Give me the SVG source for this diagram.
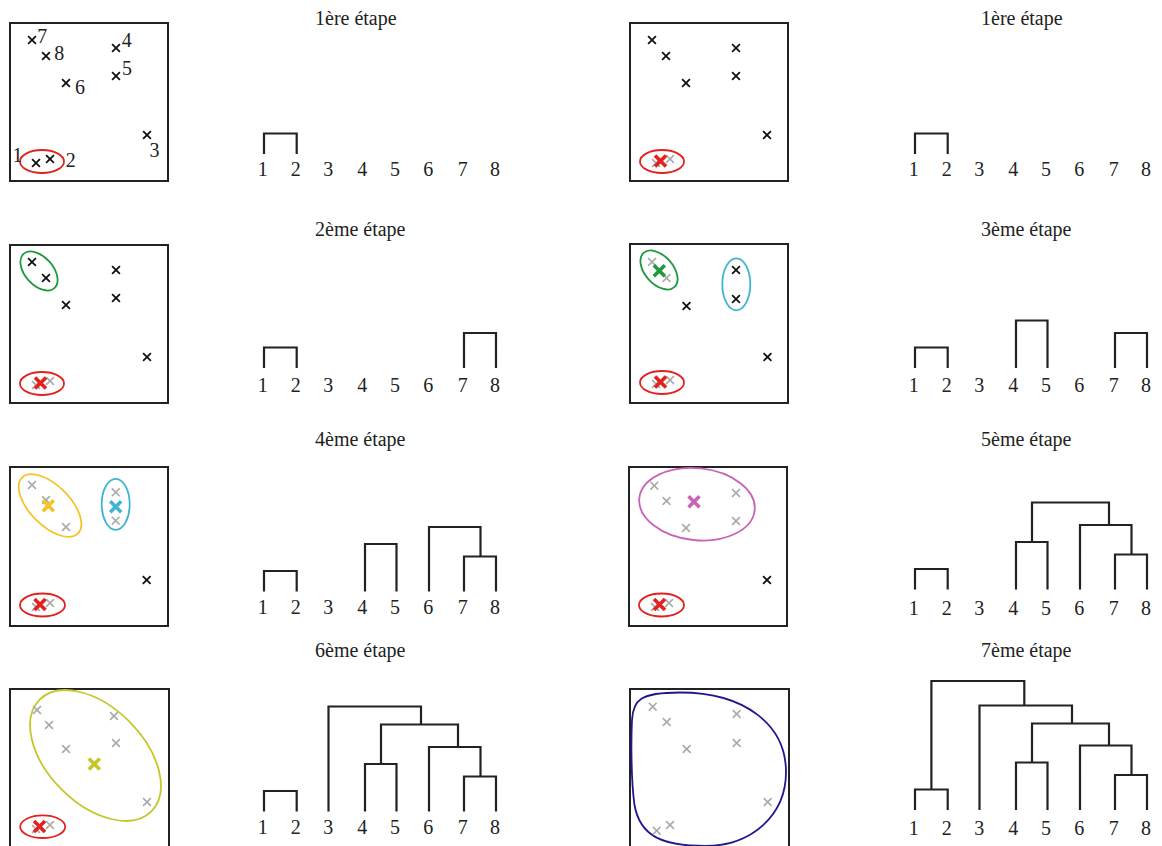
<svg xmlns="http://www.w3.org/2000/svg" width="1162" height="846" viewBox="0 0 1162 846">
<style>
.box{fill:none;stroke:#222;stroke-width:2}
.dg{fill:none;stroke:#222;stroke-width:2.2}
text{font-family:"Liberation Serif","Times New Roman",serif;font-size:20px;fill:#222}
.n{text-anchor:middle}
.pl{text-anchor:middle;font-size:20px}
.xk{stroke:#111;stroke-width:1.8;fill:none}
.xg{stroke:#aaaaaa;stroke-width:1.6;fill:none}
.xb{stroke-width:3.6;fill:none}
.el{fill:none;stroke-width:1.8}
.red{stroke:#e3211e}
.grn{stroke:#1e9a3e}
.cyn{stroke:#3fb5d3}
.yel{stroke:#f6c325}
.mag{stroke:#c863b6}
.ygr{stroke:#c6c62a}
.blu{stroke:#1f1790}
</style>
<defs>
<path id="c" d="M-3.9,-3.9L3.9,3.9M-3.9,3.9L3.9,-3.9"/>
<path id="C" d="M-5.5,-5.5L5.5,5.5M-5.5,5.5L5.5,-5.5"/>
</defs>

<!-- Titles -->
<g id="titles">
<text x="315" y="24.5">1ère étape</text>
<text x="981" y="24.5">1ère étape</text>
<text x="315" y="235.5">2ème étape</text>
<text x="981" y="235.5">3ème étape</text>
<text x="315" y="445.5">4ème étape</text>
<text x="981" y="445.5">5ème étape</text>
<text x="315" y="656.5">6ème étape</text>
<text x="981" y="656.5">7ème étape</text>
</g>

<!-- Scatter panels -->
<g id="scatter-1a" transform="translate(10,23)">
<rect class="box" x="0" y="0" width="158" height="158"/>
<ellipse class="el red" cx="32" cy="138.5" rx="22" ry="11.5"/>
<use href="#c" class="xk" x="26" y="140"/>
<use href="#c" class="xk" x="40" y="136"/>
<use href="#c" class="xk" x="137" y="112"/>
<use href="#c" class="xk" x="106" y="25"/>
<use href="#c" class="xk" x="106" y="53"/>
<use href="#c" class="xk" x="56" y="60"/>
<use href="#c" class="xk" x="22" y="17"/>
<use href="#c" class="xk" x="36" y="33"/>
<text class="pl" x="32.2" y="19.7">7</text>
<text class="pl" x="49.2" y="37">8</text>
<text class="pl" x="116.7" y="23.7">4</text>
<text class="pl" x="117" y="52">5</text>
<text class="pl" x="70" y="71.3">6</text>
<text class="pl" x="144.5" y="133.7">3</text>
<text class="pl" x="7.5" y="138.7">1</text>
<text class="pl" x="60.7" y="143.7">2</text>
</g>

<g id="scatter-1b" transform="translate(630,23)">
<rect class="box" x="0" y="0" width="158" height="158"/>
<ellipse class="el red" cx="32" cy="138.5" rx="22" ry="11.5"/>
<use href="#c" class="xg" x="26" y="140"/>
<use href="#c" class="xg" x="40" y="136"/>
<use href="#C" class="xb red" x="30.5" y="138"/>
<use href="#c" class="xk" x="137" y="112"/>
<use href="#c" class="xk" x="106" y="25"/>
<use href="#c" class="xk" x="106" y="53"/>
<use href="#c" class="xk" x="56" y="60"/>
<use href="#c" class="xk" x="22" y="17"/>
<use href="#c" class="xk" x="36" y="33"/>
</g>

<g id="scatter-2" transform="translate(10,245)">
<rect class="box" x="0" y="0" width="158" height="158"/>
<ellipse class="el red" cx="32" cy="138.5" rx="22" ry="11.5"/>
<use href="#c" class="xg" x="26" y="140"/>
<use href="#c" class="xg" x="40" y="136"/>
<use href="#C" class="xb red" x="30.5" y="138"/>
<ellipse class="el grn" cx="29" cy="26" rx="23" ry="14" transform="rotate(48 29 26)"/>
<use href="#c" class="xk" x="22" y="17"/>
<use href="#c" class="xk" x="36" y="33"/>
<use href="#c" class="xk" x="137" y="112"/>
<use href="#c" class="xk" x="106" y="25"/>
<use href="#c" class="xk" x="106" y="53"/>
<use href="#c" class="xk" x="56" y="60"/>
</g>

<g id="scatter-3" transform="translate(630,244)">
<rect class="box" x="0" y="0" width="158" height="159"/>
<ellipse class="el red" cx="32" cy="138.5" rx="22" ry="11.5"/>
<use href="#c" class="xg" x="26" y="140"/>
<use href="#c" class="xg" x="40" y="136"/>
<use href="#C" class="xb red" x="30.5" y="138"/>
<ellipse class="el grn" cx="29" cy="26" rx="23" ry="14" transform="rotate(48 29 26)"/>
<use href="#c" class="xg" x="22" y="18"/>
<use href="#c" class="xg" x="36.5" y="34"/>
<use href="#C" class="xb grn" x="29.3" y="26.7"/>
<ellipse class="el cyn" cx="106.3" cy="40.3" rx="14" ry="26"/>
<use href="#c" class="xk" x="106" y="26"/>
<use href="#c" class="xk" x="106" y="55"/>
<use href="#c" class="xk" x="56.5" y="62"/>
<use href="#c" class="xk" x="137.5" y="113"/>
</g>

<g id="scatter-4" transform="translate(10,467)">
<rect class="box" x="0" y="0" width="158" height="159"/>
<ellipse class="el red" cx="32.5" cy="138" rx="22.5" ry="11.5"/>
<use href="#c" class="xg" x="26" y="140"/>
<use href="#c" class="xg" x="40" y="136"/>
<use href="#C" class="xb red" x="30" y="137.5"/>
<ellipse class="el yel" cx="40" cy="38.5" rx="39.5" ry="20" transform="rotate(45 40 38.5)"/>
<use href="#c" class="xg" x="22" y="18"/>
<use href="#c" class="xg" x="36" y="33"/>
<use href="#c" class="xg" x="56" y="60"/>
<use href="#C" class="xb yel" x="38.3" y="38.7"/>
<ellipse class="el cyn" cx="105.7" cy="37.3" rx="14" ry="25.5"/>
<use href="#c" class="xg" x="105.7" y="25.3"/>
<use href="#c" class="xg" x="105.7" y="53.7"/>
<use href="#C" class="xb cyn" x="105.7" y="39.7"/>
<use href="#c" class="xk" x="136.7" y="113"/>
</g>

<g id="scatter-5" transform="translate(629,467)">
<rect class="box" x="0" y="0" width="158" height="159"/>
<ellipse class="el red" cx="32.5" cy="138" rx="22.5" ry="11.5"/>
<use href="#c" class="xg" x="26" y="140"/>
<use href="#c" class="xg" x="40" y="136"/>
<use href="#C" class="xb red" x="30.5" y="137.5"/>
<ellipse class="el mag" cx="68" cy="37.2" rx="58" ry="36" transform="rotate(6 68 37.2)"/>
<use href="#c" class="xg" x="25.3" y="18.7"/>
<use href="#c" class="xg" x="37.5" y="34"/>
<use href="#c" class="xg" x="57" y="61"/>
<use href="#c" class="xg" x="107" y="26"/>
<use href="#c" class="xg" x="107" y="54"/>
<use href="#C" class="xb mag" x="65" y="34.7"/>
<use href="#c" class="xk" x="138" y="113"/>
</g>

<g id="scatter-6" transform="translate(10,689)">
<rect class="box" x="0" y="0" width="159" height="160"/>
<ellipse class="el red" cx="32.7" cy="137.7" rx="22.5" ry="11.3"/>
<use href="#c" class="xg" x="26" y="140"/>
<use href="#c" class="xg" x="40" y="136"/>
<use href="#C" class="xb red" x="29.5" y="137.5"/>
<ellipse class="el ygr" cx="85.5" cy="66.5" rx="79" ry="48" transform="rotate(45 85.5 66.5)"/>
<use href="#c" class="xg" x="27" y="21"/>
<use href="#c" class="xg" x="39" y="36"/>
<use href="#c" class="xg" x="56" y="60"/>
<use href="#c" class="xg" x="104" y="27"/>
<use href="#c" class="xg" x="106" y="54"/>
<use href="#c" class="xg" x="137" y="113"/>
<use href="#C" class="xb ygr" x="84.3" y="75"/>
</g>

<g id="scatter-7" transform="translate(630,689)">
<rect class="box" x="0" y="0" width="159" height="160"/>
<path class="el blu" stroke-width="2" d="M50,3.5C115,3.5 156,36 156,83C156,126 122,157 75,157C32,157 10,147 4.5,116C1,91 1,51 2,31C3,11 10,3.5 50,3.5Z"/>
<use href="#c" class="xg" x="22.7" y="17.7"/>
<use href="#c" class="xg" x="36.7" y="33"/>
<use href="#c" class="xg" x="56.7" y="60"/>
<use href="#c" class="xg" x="106.7" y="25"/>
<use href="#c" class="xg" x="106.7" y="54"/>
<use href="#c" class="xg" x="137.7" y="113"/>
<use href="#c" class="xg" x="26.7" y="141.7"/>
<use href="#c" class="xg" x="40" y="136"/>
</g>

<!-- Dendrograms -->
<g id="dendro-1a">
<path class="dg" d="M264,154V133.5H296.7V154"/>
<g class="n"><text x="262.7" y="176">1</text><text x="295.7" y="176">2</text><text x="328.3" y="176">3</text><text x="362.3" y="176">4</text><text x="395" y="176">5</text><text x="428.3" y="176">6</text><text x="462.7" y="176">7</text><text x="495" y="176">8</text></g>
</g>
<g id="dendro-1b" transform="translate(651,0)">
<path class="dg" d="M264,154V133.5H296.7V154"/>
<g class="n"><text x="262.7" y="176">1</text><text x="295.7" y="176">2</text><text x="328.3" y="176">3</text><text x="362.3" y="176">4</text><text x="395" y="176">5</text><text x="428.3" y="176">6</text><text x="462.7" y="176">7</text><text x="495" y="176">8</text></g>
</g>

<g id="dendro-2">
<path class="dg" d="M264,368V347.5H296.7V368M464,368V333H496V368"/>
<g class="n"><text x="262.7" y="391.5">1</text><text x="295.7" y="391.5">2</text><text x="328.3" y="391.5">3</text><text x="362.3" y="391.5">4</text><text x="395" y="391.5">5</text><text x="428.3" y="391.5">6</text><text x="462.7" y="391.5">7</text><text x="495" y="391.5">8</text></g>
</g>
<g id="dendro-3" transform="translate(651,0)">
<path class="dg" d="M264,368V347.5H296.7V368M365,368V320.5H396.5V368M464,368V333H496V368"/>
<g class="n"><text x="262.7" y="391.5">1</text><text x="295.7" y="391.5">2</text><text x="328.3" y="391.5">3</text><text x="362.3" y="391.5">4</text><text x="395" y="391.5">5</text><text x="428.3" y="391.5">6</text><text x="462.7" y="391.5">7</text><text x="495" y="391.5">8</text></g>
</g>

<g id="dendro-4">
<path class="dg" d="M264,591.5V571H296.7V591.5M365,591.5V544H396.5V591.5M464,591.5V556.5H496V591.5M429,591.5V527H480.5V556.5"/>
<g class="n"><text x="262.7" y="614">1</text><text x="295.7" y="614">2</text><text x="328.3" y="614">3</text><text x="362.3" y="614">4</text><text x="395" y="614">5</text><text x="428.3" y="614">6</text><text x="462.7" y="614">7</text><text x="495" y="614">8</text></g>
</g>
<g id="dendro-5" transform="translate(651,0)">
<path class="dg" d="M264,589.5V569H296.7V589.5M365,589.5V542H396.5V589.5M464,589.5V554.5H496V589.5M429,589.5V525H480.5V554.5M381,542V502.5H458V525"/>
<g class="n"><text x="262.7" y="615">1</text><text x="295.7" y="615">2</text><text x="328.3" y="615">3</text><text x="362.3" y="615">4</text><text x="395" y="615">5</text><text x="428.3" y="615">6</text><text x="462.7" y="615">7</text><text x="495" y="615">8</text></g>
</g>

<g id="dendro-6">
<path class="dg" d="M264,811.5V791H296.7V811.5M365,811.5V764H396.5V811.5M464,811.5V776.5H496V811.5M429,811.5V747H480.5V776.5M381,764V724.5H458V747M328.5,811.5V706.5H421V724.5"/>
<g class="n"><text x="262.7" y="834">1</text><text x="295.7" y="834">2</text><text x="328.3" y="834">3</text><text x="362.3" y="834">4</text><text x="395" y="834">5</text><text x="428.3" y="834">6</text><text x="462.7" y="834">7</text><text x="495" y="834">8</text></g>
</g>
<g id="dendro-7" transform="translate(651,0)">
<path class="dg" d="M264,810V789.5H296.7V810M365,810V762.5H396.5V810M464,810V775H496V810M429,810V745.5H480.5V775M381,762.5V723.5H458V745.5M328.5,810V705.5H421V723.5M280.4,789.5V681H373.3V705.5"/>
<g class="n"><text x="262.7" y="835">1</text><text x="295.7" y="835">2</text><text x="328.3" y="835">3</text><text x="362.3" y="835">4</text><text x="395" y="835">5</text><text x="428.3" y="835">6</text><text x="462.7" y="835">7</text><text x="495" y="835">8</text></g>
</g>
</svg>
